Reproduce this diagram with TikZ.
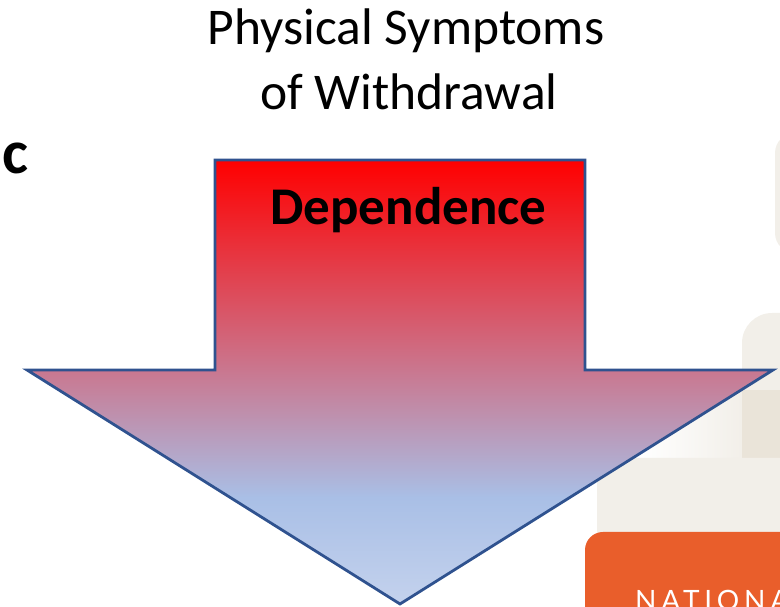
\documentclass[tikz,border=0pt]{standalone}
\usepackage{fontspec}
\setmainfont{Carlito}
\newfontfamily\logofont[LetterSpace=17]{Lato}

\definecolor{arrowblue}{RGB}{47,82,143}
\definecolor{orangebar}{RGB}{233,94,43}
\definecolor{beigelight}{RGB}{242,239,233}
\definecolor{beigedark}{RGB}{234,228,217}
\definecolor{shaftred}{RGB}{255,0,0}
\definecolor{midblue}{RGB}{169,191,230}
\definecolor{paleblue}{RGB}{196,210,237}

\pgfdeclareverticalshading{depshade}{100bp}{color(0bp)=(paleblue); color(25bp)=(paleblue); color(37bp)=(midblue); color(75bp)=(shaftred); color(100bp)=(shaftred)}

\begin{document}
\begin{tikzpicture}[x=1pt, y=1pt,
    title/.style={anchor=base, inner sep=0, font=\fontsize{51.5}{61}\selectfont}]
\useasboundingbox (0,0) rectangle (780,607);
\clip (0,0) rectangle (780,607);
% faded blocks on the right
\fill[beigelight, rounded corners=20pt] (775,474) rectangle (820,354);
\fill[beigelight, rounded corners=30pt] (742,294) rectangle (820,140);
\shade[left color=white, right color=beigelight] (640,217) rectangle (742,149);
\fill[beigedark] (742,217) rectangle (780,149);
\fill[beigelight, rounded corners=25pt] (597,149) rectangle (820,40);
\fill[orangebar, rounded corners=18pt] (585,75) rectangle (820,-40);
\node[anchor=base west, inner sep=0, text=white,
      font=\logofont\fontsize{28}{28}\selectfont] (logo) at (635,-4) {NATIONA};
% the arrow
\shadedraw[shading=depshade, draw=arrowblue, line width=2.8pt, line join=miter]
    (215,447) -- (585,447) -- (585,237) -- (773,237) -- (400,3)
    -- (27,237) -- (215,237) -- cycle;
\node[anchor=base, inner sep=0, font=\bfseries\fontsize{53}{53}\selectfont]
    (dep) at (408.5,382) {Dependence};
% titles
\node[title] (title1) at (406,562) {Physical Symptoms};
\node[title] (title2) at (409,497) {of Withdrawal};
\node[anchor=base west, inner sep=0, font=\bfseries\fontsize{62}{62}\selectfont]
    (panel) at (2.5,433) {c};
\end{tikzpicture}
\end{document}
